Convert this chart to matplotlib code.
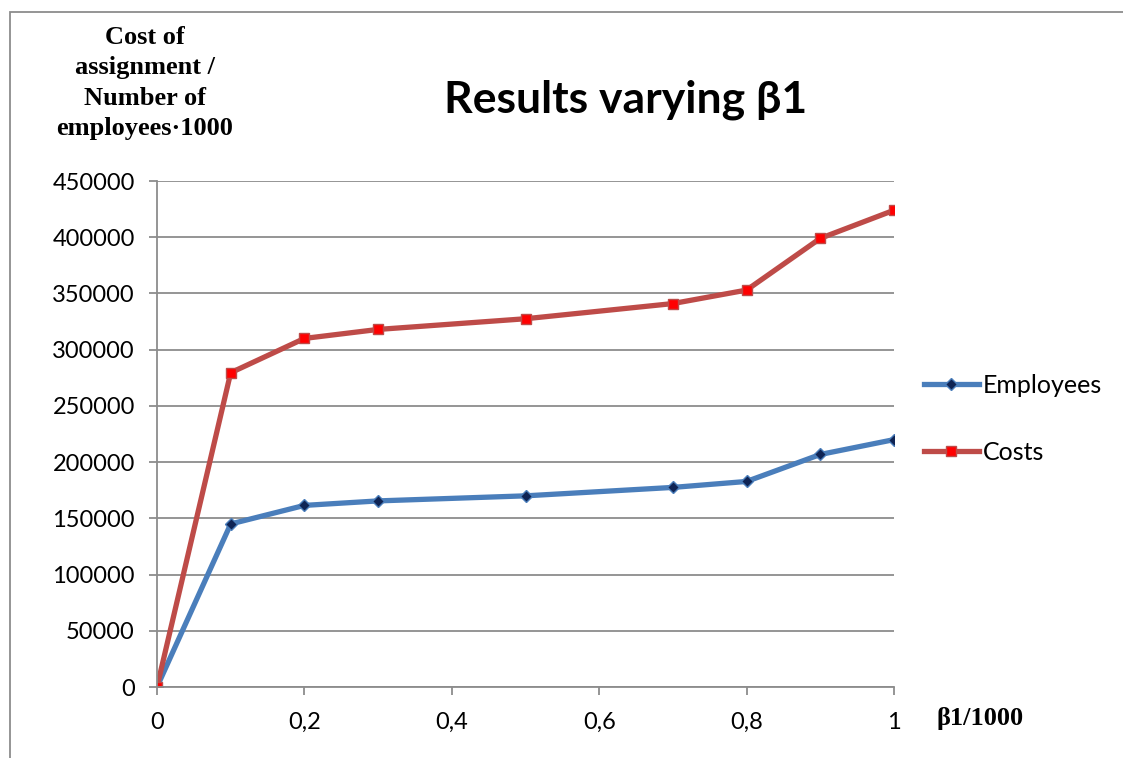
import matplotlib
matplotlib.use("Agg")
import matplotlib.pyplot as plt
from matplotlib.ticker import FuncFormatter, MultipleLocator
from matplotlib.patches import Rectangle

# data
beta = [0, 0.1, 0.2, 0.3, 0.5, 0.7, 0.8, 0.9, 1.0]
employees = [0, 145000, 161500, 165500, 170000, 177500, 182800, 206800, 220000]
costs = [0, 279500, 310000, 318000, 327500, 341000, 353000, 399000, 424000]
x_ticks = [0, 0.2, 0.4, 0.6, 0.8, 1.0]

blue = "#4A7EBB"
red = "#BE4B48"
grid_c = "#8C8C8C"

fig = plt.figure(figsize=(11.23, 7.58), dpi=100)
ax = fig.add_axes([157/1123, 1-687/758, (894-157)/1123, (687-181)/758])

ax.plot(beta, employees, color=blue, lw=3.8, marker="D", ms=6,
        mfc="#0F2454", mec=blue, mew=1, label="Employees")
ax.plot(beta, costs, color=red, lw=3.8, marker="s", ms=7,
        mfc="#FF0000", mec=red, mew=1, label="Costs")

ax.set_xlim(0, 1)
ax.set_ylim(0, 450000)
ax.set_xticks(x_ticks)
ax.yaxis.set_major_locator(MultipleLocator(50000))
ax.xaxis.set_major_formatter(FuncFormatter(lambda v, p: ("%g" % v).replace(".", ",")))
ax.yaxis.set_major_formatter(FuncFormatter(lambda v, p: "%d" % v))
ax.grid(axis="y", color=grid_c, lw=1.3)
ax.set_axisbelow(True)
for s in ["top", "right"]:
    ax.spines[s].set_visible(False)
for s in ["left", "bottom"]:
    ax.spines[s].set_color(grid_c)
    ax.spines[s].set_linewidth(1.3)
ax.tick_params(colors=grid_c, width=1.3, length=6, labelcolor="black",
               labelsize=17)
ax.tick_params(axis="x", pad=12)
ax.tick_params(axis="y", pad=10)
for lab in ax.get_xticklabels() + ax.get_yticklabels():
    lab.set_family("Lato")

fig.text(626/1123, 1-100/758, "Results varying β1", ha="center", va="center",
         fontsize=32, fontweight="bold", family="Lato")
fig.text(145/1123, 1-83/758, "Cost of\nassignment /\nNumber of\nemployees·1000",
         ha="center", va="center", fontsize=19, fontweight="bold",
         family="Liberation Serif", linespacing=1.4)
fig.text(980/1123, 1-718/758, "β1/1000", ha="center", va="center",
         fontsize=19, fontweight="bold", family="Liberation Serif")

leg = ax.legend(loc="center left", bbox_to_anchor=(1.01, 0.53), frameon=False,
                prop={"family": "Lato", "size": 18}, handlelength=2.2,
                labelspacing=1.75, handletextpad=0.15)

fig.patches.append(Rectangle((10/1123, -0.1), 1.2, 1-12/758+0.1,
                             transform=fig.transFigure, fill=False,
                             edgecolor="#8C8C8C", lw=1.3))

fig.savefig("out.png", dpi=100)
